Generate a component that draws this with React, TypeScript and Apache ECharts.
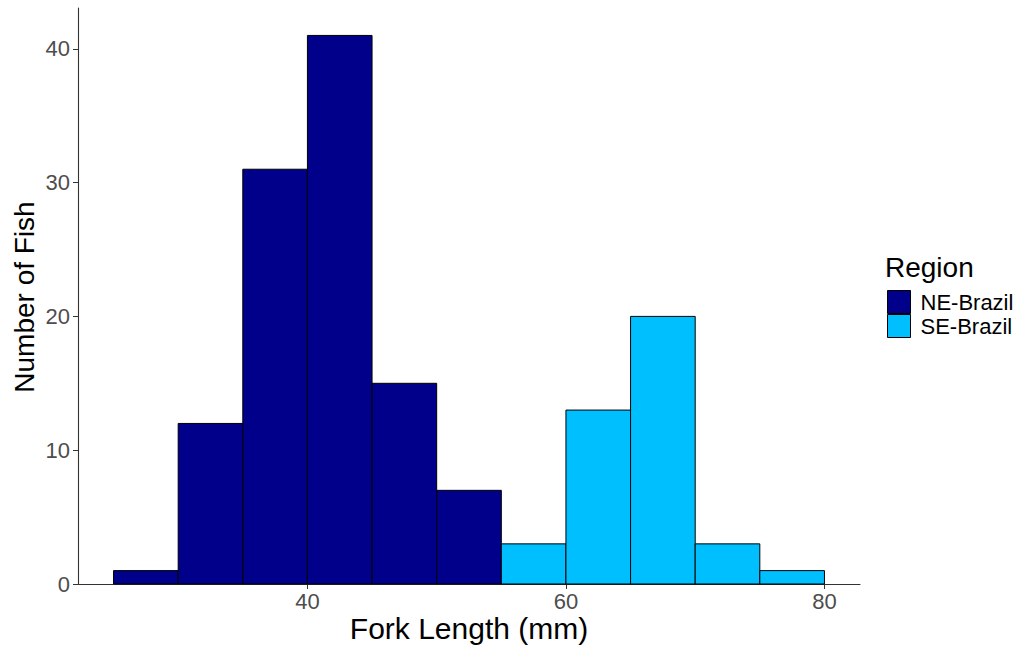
import React, { useEffect, useRef } from "react";
import * as echarts from "echarts";

const neStarts = [25, 30, 35, 40, 45, 50];
const neCounts = [1, 12, 31, 41, 15, 7];
const seStarts = [55, 60, 65, 70, 75];
const seCounts = [3, 13, 20, 3, 1];
const binWidth = 5;
const xTicks = [40, 60, 80];
const yTicks = [0, 10, 20, 30, 40];
const regions = ["NE-Brazil", "SE-Brazil"];
const colors = ["#00008B", "#00BFFF"];
const xTitle = "Fork Length (mm)";
const yTitle = "Number of Fish";

const FONT = "Liberation Sans, Arial, sans-serif";

function toData(starts: number[], counts: number[]) {
  return starts.map((s, i) => [s, s + binWidth, counts[i]]);
}

const renderItem = (params: any, api: any) => {
  const p0 = api.coord([api.value(0), api.value(2)]);
  const p1 = api.coord([api.value(1), 0]);
  return {
    type: "rect",
    shape: { x: p0[0], y: p0[1], width: p1[0] - p0[0], height: p1[1] - p0[1] },
    style: { fill: api.visual("color"), stroke: "#000", lineWidth: 1 },
  };
};

export default function App() {
  const ref = useRef<HTMLDivElement>(null);
  useEffect(() => {
    if (!ref.current) return;
    const chart = echarts.init(ref.current, undefined, { renderer: "svg" });
    const axisLine = { show: true, lineStyle: { color: "#333", width: 1.1 } };
    chart.setOption({
      animation: false,
      backgroundColor: "#fff",
      textStyle: { fontFamily: FONT },
      grid: { left: 78, right: 167, top: 8, bottom: 67, containLabel: false },
      title: {
        text: "Region",
        left: 885,
        top: 253,
        padding: 0,
        textStyle: { fontFamily: FONT, fontSize: 28, fontWeight: "normal", color: "#000" },
      },
      graphic: [
        {
          type: "text",
          x: 469,
          y: 628,
          style: {
            text: xTitle,
            fontFamily: FONT,
            fontSize: 30,
            fill: "#000",
            align: "center",
            verticalAlign: "middle",
          },
        },
        {
          type: "text",
          x: 24,
          y: 297,
          rotation: Math.PI / 2,
          style: {
            text: yTitle,
            fontFamily: FONT,
            fontSize: 28,
            fill: "#000",
            align: "center",
            verticalAlign: "middle",
          },
        },
      ],
      legend: {
        orient: "vertical",
        left: 887,
        top: 290,
        padding: 0,
        itemGap: 0,
        itemWidth: 23,
        itemHeight: 23,
        textStyle: { fontFamily: FONT, fontSize: 22, color: "#000", padding: [0, 0, 0, 5] },
        data: regions.map((r, i) => ({
          name: r,
          icon: "rect",
          itemStyle: { color: colors[i], borderColor: "#000", borderWidth: 1 },
        })),
      },
      xAxis: {
        type: "value",
        min: 22.25,
        max: 82.75,
        axisLine,
        axisTick: { show: true, length: 5, customValues: xTicks, lineStyle: { color: "#333" } },
        axisLabel: { customValues: xTicks, margin: 6, fontSize: 22, color: "#4d4d4d", fontFamily: FONT },
        splitLine: { show: false },
      },
      yAxis: {
        type: "value",
        min: 0,
        max: 43.05,
        axisLine,
        axisTick: { show: true, length: 5, customValues: yTicks, lineStyle: { color: "#333" } },
        axisLabel: { customValues: yTicks, margin: 8, fontSize: 22, color: "#4d4d4d", fontFamily: FONT },
        splitLine: { show: false },
      },
      series: [
        {
          type: "custom",
          name: regions[0],
          renderItem,
          itemStyle: { color: colors[0] },
          encode: { x: [0, 1], y: 2 },
          data: toData(neStarts, neCounts),
        },
        {
          type: "custom",
          name: regions[1],
          renderItem,
          itemStyle: { color: colors[1] },
          encode: { x: [0, 1], y: 2 },
          data: toData(seStarts, seCounts),
        },
      ],
    });
    return () => chart.dispose();
  }, []);
  return (
    <div
      ref={ref}
      style={{ position: "fixed", left: 0, top: 0, width: 1027, height: 651 }}
    />
  );
}
